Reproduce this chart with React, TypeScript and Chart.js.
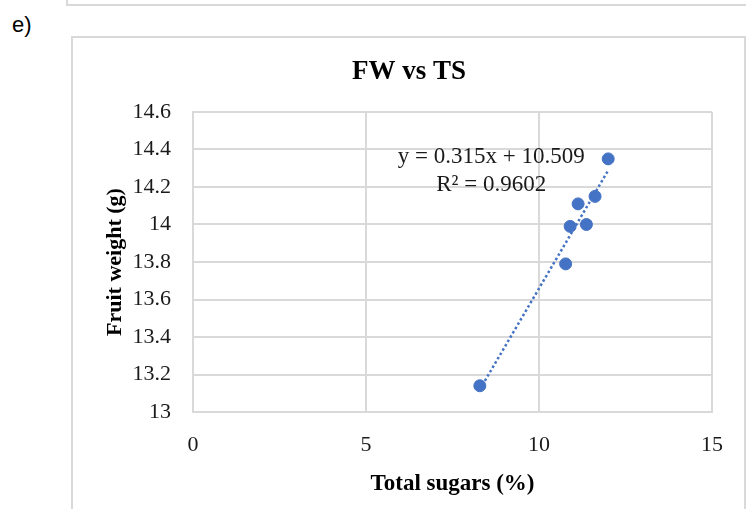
import React, { useEffect, useRef } from "react";
import { Chart, registerables } from "chart.js";

Chart.register(...registerables);

const totalSugars = [8.29, 10.77, 10.9, 11.13, 11.37, 11.62, 12.0];
const fruitWeight = [13.14, 13.79, 13.99, 14.11, 14.0, 14.15, 14.35];
const TREND_SLOPE = 0.315;
const TREND_INTERCEPT = 10.509;
const EQUATION_TEXT = "y = 0.315x + 10.509";
const R2_TEXT = "R² = 0.9602";
const LABEL_ANCHOR_X = 8.62;
const LABEL_ANCHOR_Y = [14.36, 14.21];
const CHART_TITLE = "FW vs TS";
const X_TITLE = "Total sugars (%)";
const Y_TITLE = "Fruit weight (g)";

const BLUE = "#4472C4";
const GRID = "#d9d9d9";
const SERIF = "'Liberation Serif', 'Times New Roman', serif";

export default function App() {
  const canvasRef = useRef<HTMLCanvasElement | null>(null);

  useEffect(() => {
    const canvas = canvasRef.current;
    if (!canvas) return;
    const xMin = Math.min(...totalSugars);
    const xMax = Math.max(...totalSugars);
    const trend = [xMin, xMax].map((x) => ({ x, y: TREND_SLOPE * x + TREND_INTERCEPT }));

    const textPlugin = {
      id: "textLabels",
      afterDatasetsDraw(chart: any) {
        const { ctx, scales, width } = chart;
        const cx = scales.x.getPixelForValue(LABEL_ANCHOR_X);
        ctx.save();
        ctx.font = `23px ${SERIF}`;
        ctx.fillStyle = "#1a1a1a";
        ctx.textAlign = "center";
        ctx.textBaseline = "middle";
        ctx.fillText(EQUATION_TEXT, cx, scales.y.getPixelForValue(LABEL_ANCHOR_Y[0]));
        ctx.fillText(R2_TEXT, cx, scales.y.getPixelForValue(LABEL_ANCHOR_Y[1]));
        // chart title, centered on the chart box
        ctx.font = `bold 27px ${SERIF}`;
        ctx.fillStyle = "#000";
        ctx.textBaseline = "alphabetic";
        ctx.fillText(CHART_TITLE, width / 2, 41);
        ctx.restore();
      },
    };

    const chart = new Chart(canvas, {
      type: "scatter",
      data: {
        datasets: [
          {
            type: "line",
            data: trend,
            borderColor: BLUE,
            borderWidth: 2.5,
            borderDash: [2.5, 2.5],
            pointRadius: 0,
            fill: false,
            order: 2,
          } as any,
          {
            data: totalSugars.map((x, i) => ({ x, y: fruitWeight[i] })),
            backgroundColor: BLUE,
            borderColor: BLUE,
            pointRadius: 6,
            pointHoverRadius: 6,
            order: 1,
          },
        ],
      },
      options: {
        responsive: false,
        animation: false,
        devicePixelRatio: 1,
        layout: { padding: { left: 0, right: 33, top: 74, bottom: 0 } },
        plugins: {
          legend: { display: false },
          tooltip: { enabled: false },
          title: { display: false },
        },
        scales: {
          x: {
            type: "linear",
            min: 0,
            max: 15,
            ticks: {
              stepSize: 5,
              padding: 20,
              color: "#1a1a1a",
              font: { family: SERIF, size: 22 },
            },
            grid: { color: GRID, lineWidth: 2, drawTicks: false },
            border: { color: GRID, width: 2 },
            title: {
              display: true,
              text: X_TITLE,
              color: "#000",
              font: { family: SERIF, size: 23, weight: "bold" },
              padding: { top: 0, bottom: 11 },
            },
            afterFit: (scale: any) => {
              scale.height = 97;
            },
          },
          y: {
            type: "linear",
            min: 13,
            max: 14.6,
            ticks: {
              stepSize: 0.2,
              padding: 22,
              color: "#1a1a1a",
              font: { family: SERIF, size: 22 },
              callback: (v: any) => String(Number(Number(v).toFixed(1))),
            },
            grid: { color: GRID, lineWidth: 2, drawTicks: false },
            border: { color: GRID, width: 2 },
            title: {
              display: true,
              text: Y_TITLE,
              color: "#000",
              font: { family: SERIF, size: 22, weight: "bold" },
              padding: { top: 29, bottom: 0 },
            },
            afterFit: (scale: any) => {
              scale.width = 120;
            },
          },
        },
      },
      plugins: [textPlugin],
    });
    return () => chart.destroy();
  }, []);

  return (
    <div
      style={{
        position: "absolute",
        left: 0,
        top: 0,
        width: 746,
        height: 509,
        overflow: "hidden",
        background: "#fff",
      }}
    >
      <div
        style={{
          position: "absolute",
          left: 66,
          top: -30,
          width: 700,
          height: 36,
          border: `2px solid ${GRID}`,
          boxSizing: "border-box",
        }}
      />
      <div
        style={{
          position: "absolute",
          left: 12,
          top: 13,
          fontFamily: "'Liberation Sans', Arial, sans-serif",
          fontSize: 22,
          lineHeight: "24px",
          color: "#000",
        }}
      >
        e)
      </div>
      <div
        style={{
          position: "absolute",
          left: 71,
          top: 36,
          width: 675,
          height: 500,
          border: `2px solid ${GRID}`,
          boxSizing: "border-box",
        }}
      />
      <canvas
        ref={canvasRef}
        width={672}
        height={471}
        style={{ position: "absolute", left: 73, top: 38, width: 672, height: 471 }}
      />
    </div>
  );
}
